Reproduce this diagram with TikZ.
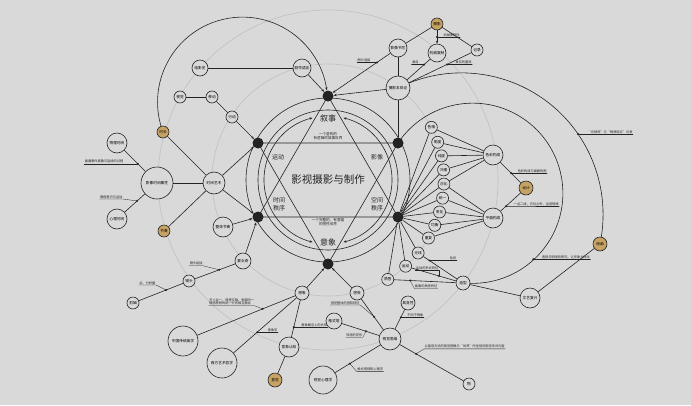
\documentclass[tikz,border=0pt]{standalone}
\usepackage{fontspec}
\setmainfont{Noto Sans CJK SC}
\usetikzlibrary{arrows.meta,calc}
\pgfdeclarelayer{back}
\pgfdeclarelayer{edges}
\pgfsetlayers{back,edges,main}
\definecolor{paper}{RGB}{217,217,217}
\definecolor{ink}{RGB}{35,35,35}
\definecolor{ring}{RGB}{192,192,192}
\definecolor{gold}{RGB}{198,162,100}
\tikzset{
  nd/.style={circle,draw=ink,fill=paper,line width=.6pt,inner sep=0pt,align=center,font=\fontsize{3.7}{4}\selectfont},
  gd/.style={nd,fill=gold},
  hub/.style={circle,fill=ink,inner sep=0pt,minimum size=11},
  ln/.style={draw=ink,line width=.6pt},
  lead/.style={draw=ink,line width=.3pt},
  lab/.style={font=\fontsize{3.2}{3.9}\selectfont,inner sep=.4pt,text=ink,align=left},
  big/.style={font=\fontsize{#1}{#1}\selectfont,text=ink,align=center,inner sep=0pt},
}
\begin{document}
\begin{tikzpicture}[x=1pt,y=-1pt,line cap=round,line join=round,>={Stealth[length=3pt,width=2.4pt]}]
  \coordinate (o) at (328,180);
  \begin{pgfonlayer}{back}
    \fill[paper] (0,0) rectangle (691,405);
    \draw[ring,line width=.6pt] (o) circle[radius=170];
    \draw[ring,line width=.6pt] (o) circle[radius=116];
  \end{pgfonlayer}

  % hexagram hubs
  \node[hub] (dtop) at (328,96) {};
  \node[hub] (dul) at (258,143) {};
  \node[hub] (dur) at (398,143) {};
  \node[hub] (dll) at (258,217) {};
  \node[hub] (dlr) at (398,217) {};
  \node[hub] (dbot) at (328,264) {};
  \node[big=10.5] (title) at (328,180) {影视摄影与制作};
  \node[big=8] (xushi) at (328,118) {叙事};
  \node[big=3.6] (xushitxt) at (328,136) {一个虚构的\\[.6pt]有逻辑的故事世界};
  \node[big=6] (yundong) at (278,157) {运动};
  \node[big=6] (yingxiang) at (377,157) {影像};
  \node[big=6] (shijianzx) at (279,204) {时间\\[1.5pt]秩序};
  \node[big=6] (kongjianzx) at (377,204) {空间\\[1.5pt]秩序};
  \node[big=3.6] (yixiangtxt) at (328,222) {一个完整的、有意蕴\\[.6pt]的感性世界};
  \node[big=8] (yixiang) at (328,242) {意象};

  % top
  \node[nd,minimum size=16] (dianyingshi) at (200,68) {电影史};
  \node[nd,minimum size=18] (juzuo) at (302,68) {剧作语言};
  \node[nd,minimum size=18] (yxsx) at (398,48) {影像书写};
  \node[gd,minimum size=12] (sheying) at (437,24) {摄影};
  \node[nd,minimum size=18] (jxfz) at (437,53) {机械复制};
  \node[nd,minimum size=12] (jilu) at (477,50) {记录};
  \node[nd,minimum size=24] (bentilun) at (398,88) {摄影本体论};

  % left
  \node[nd,minimum size=12] (shijue) at (180,97) {视觉};
  \node[nd,minimum size=12] (yidong) at (212,97) {移动};
  \node[nd,minimum size=12] (xingdong) at (232,117) {行动};
  \node[gd,minimum size=12] (shichang) at (163,132) {时长};
  \node[nd,minimum size=20] (wuli) at (117,143) {物理时间};
  \node[nd,minimum size=32] (shuxing) at (157,183) {影像时间属性};
  \node[nd,minimum size=22] (shijian) at (214,183) {时间艺术};
  \node[nd,minimum size=20] (xinli) at (117,219) {心理时间};
  \node[gd,minimum size=12] (jiezou) at (164,231) {节奏};
  \node[nd,minimum size=20] (zhengti) at (223,227) {整体节奏};
  \node[nd,minimum size=16] (mengtaiqi) at (243,261) {蒙太奇};
  \node[nd,minimum size=12] (jingtou) at (189,281) {镜头};
  \node[nd,minimum size=12] (jianji) at (133,303) {剪辑};
  \node[nd,minimum size=30] (zgmx) at (183,341) {中国传统美学};
  \node[nd,minimum size=30] (xfzx) at (222,363) {西方艺术哲学};

  % bottom
  \node[nd,minimum size=14] (xiangxiang) at (302,293) {想象};
  \node[nd,minimum size=14] (ganshou) at (357,293) {感受};
  \node[nd,minimum size=20] (yxrz) at (289,347) {意象认知};
  \node[gd,minimum size=14] (zhijue) at (275,380) {直觉};
  \node[nd,minimum size=16] (geshita) at (334,321) {格式塔};
  \node[nd,minimum size=22] (sjsw) at (390,339) {视觉思维};
  \node[nd,minimum size=28] (sjxl) at (323,380) {视觉心理学};
  \node[nd,minimum size=12] (wu) at (469,384) {物};
  \node[nd,minimum size=14] (jushen) at (408,303) {具身性};

  % right
  \node[nd,minimum size=12] (c1) at ($(o)+(-27:116)$) {色相};
  \node[nd,minimum size=12] (c2) at ($(o)+(-19:116)$) {明度};
  \node[nd,minimum size=12] (c3) at ($(o)+(-12:116)$) {纯度};
  \node[nd,minimum size=12] (c4) at ($(o)+(-5:116)$) {冷暖};
  \node[nd,minimum size=12] (c5) at ($(o)+(2:116)$) {对比};
  \node[nd,minimum size=12] (c6) at ($(o)+(9:116)$) {统一};
  \node[nd,minimum size=12] (c7) at ($(o)+(16:116)$) {变化};
  \node[nd,minimum size=12] (c8) at ($(o)+(23:116)$) {均衡};
  \node[nd,minimum size=12] (c9) at ($(o)+(30:116)$) {重复};
  \node[nd,minimum size=12] (c10) at ($(o)+(39:116)$) {光线};
  \node[nd,minimum size=12] (c11) at ($(o)+(48:116)$) {运动};
  \node[nd,minimum size=12] (c12) at ($(o)+(59:116)$) {质感};
  \node[nd,minimum size=20] (secai) at (493,155) {色彩构成};
  \node[nd,minimum size=20] (pingmian) at (493,218) {平面构成};
  \node[gd,minimum size=14] (sheji) at (526,188) {设计};
  \node[nd,minimum size=14] (zaoxing) at (463,283) {造型};
  \node[nd,minimum size=20] (wenyi) at (530,298) {文艺复兴};
  \node[gd,minimum size=14] (huihua) at (600,244) {绘画};

  \coordinate (ca) at (242.6,102.1);
  \coordinate (cb) at (461.6,214.4);
  \coordinate (cc) at (471.8,193.3);

  \begin{pgfonlayer}{edges}
    % hexagram and rings
    \draw[ln] (dtop.center) -- (dll.center) -- (dlr.center) -- cycle;
    \draw[ln] (dul.center) -- (dur.center) -- (dbot.center) -- cycle;
    \draw[ln] (o) circle[radius=82];
    \draw[ln] (o) circle[radius=70];
    \draw[ln,<->] (o) ++(256:64) arc[start angle=256,end angle=104,radius=64];
    \draw[ln,<->] (o) ++(-76:64) arc[start angle=-76,end angle=76,radius=64];

    % big arcs
    \draw[ln,->] (shichang) arc[start angle=159.4,end angle=352,radius=85];
    \draw[ln] (bentilun) arc[start angle=-116.7,end angle=12,radius=141.5];
    \draw[ln] (dur) arc[start angle=-146.1,end angle=95.6,radius=90.1];

    % top
    \draw[ln] (dianyingshi) -- (juzuo);
    \draw[ln,->] (juzuo) -- (dtop);
    \draw[ln,->] (yxsx) -- (dtop);
    \draw[ln,->] (bentilun) -- (dtop);
    \draw[ln] (yxsx) -- (bentilun);
    \draw[ln] (bentilun) -- (dur);
    \draw[ln] (sheying) -- (yxsx);
    \draw[ln,->] (sheying) -- (jxfz);
    \draw[ln] (sheying) -- (jilu);
    \draw[ln] (jxfz) -- (bentilun);
    \draw[ln] (jilu) -- (bentilun);

    % left
    \draw[ln] (shijue) -- (yidong);
    \draw[ln] (yidong) -- (xingdong);
    \draw[ln,->] (xingdong) -- (dul);
    \draw[ln] (shichang) -- (shijian);
    \draw[ln] (shuxing) -- (shijian);
    \draw[ln] (jiezou) -- (shijian);
    \draw[ln] (wuli) -- (shuxing);
    \draw[ln] (xinli) -- (shuxing);
    \draw[ln,->] (shijian) -- (dul);
    \draw[ln,->] (shijian) -- (dll);
    \draw[ln,->] (zhengti) -- (dll);
    \draw[ln,->] (mengtaiqi) -- (dll);
    \draw[ln] (mengtaiqi) -- (jingtou);
    \draw[ln] (jingtou) -- (jianji);

    % bottom
    \draw[ln,->] (xiangxiang) -- (dbot);
    \draw[ln,->] (ganshou) -- (dbot);
    \draw[ln] (xiangxiang) -- (zgmx);
    \draw[ln] (xiangxiang) -- (xfzx);
    \draw[ln] (xiangxiang) -- (yxrz);
    \draw[ln] (yxrz) -- (zhijue);
    \draw[ln] (ganshou) -- (sjsw);
    \draw[ln] (geshita) -- (sjsw);
    \draw[ln] (jushen) -- (sjsw);
    \draw[ln] (sjxl) -- (sjsw);
    \draw[ln] (sjsw) -- (wu);

    % right
    \draw[ln] (dlr) -- (c1);
    \draw[ln] (dlr) -- (c2);
    \draw[ln] (dlr) -- (c3);
    \draw[ln] (dlr) -- (c4);
    \draw[ln] (dlr) -- (c5);
    \draw[ln] (dlr) -- (c6);
    \draw[ln] (dlr) -- (c7);
    \draw[ln] (dlr) -- (c8);
    \draw[ln] (dlr) -- (c9);
    \draw[ln] (dlr) -- (c10);
    \draw[ln] (dlr) -- (c11);
    \draw[ln] (dlr) -- (c12);
    \draw[ln] (c1) -- (secai);
    \draw[ln] (c2) -- (secai);
    \draw[ln] (c3) -- (secai);
    \draw[ln] (c4) -- (secai);
    \draw[ln] (c5) -- (secai);
    \draw[ln] (c5) -- (pingmian);
    \draw[ln] (c6) -- (pingmian);
    \draw[ln] (c7) -- (pingmian);
    \draw[ln] (c8) -- (pingmian);
    \draw[ln] (c9) -- (pingmian);
    \draw[ln] (secai) -- (sheji);
    \draw[ln] (pingmian) -- (sheji);
    \draw[ln] (c10) -- (zaoxing);
    \draw[ln] (c11) -- (zaoxing);
    \draw[ln] (c12) -- (zaoxing);
    \draw[ln] (zaoxing) -- (wenyi);
    \draw[ln] (wenyi) -- (huihua);
  \end{pgfonlayer}

  % annotations: marker on the line, leader, text
  \coordinate (m1) at ($(yxsx)!.3!(dtop)$);
  \coordinate (m2) at ($(sheying)!.45!(jxfz)$);
  \coordinate (m3) at ($(jxfz)!.33!(bentilun)$);
  \coordinate (m4) at ($(jilu)!.38!(bentilun)$);
  \coordinate (m5) at ($(cb)+(-34.6:141.5)$);
  \coordinate (m6) at ($(secai)!.55!(sheji)$);
  \coordinate (m7) at ($(pingmian)!.4!(sheji)$);
  \coordinate (m8) at ($(cc)+(47:90.1)$);
  \coordinate (m9) at ($(c10)!.25!(zaoxing)$);
  \coordinate (m10) at ($(c11)!.58!(zaoxing)$);
  \coordinate (m11) at ($(c12)!.3!(zaoxing)$);
  \coordinate (m12) at ($(jushen)!.4!(sjsw)$);
  \coordinate (m13) at ($(sjsw)!.33!(wu)$);
  \coordinate (m14) at ($(geshita)!.57!(sjsw)$);
  \coordinate (m15) at ($(ganshou)!.52!(sjsw)$);
  \coordinate (m16) at ($(sjxl)!.4!(sjsw)$);
  \coordinate (m17) at ($(xiangxiang)!.33!(zgmx)$);
  \coordinate (m18) at ($(xiangxiang)!.56!(xfzx)$);
  \coordinate (m19) at ($(xiangxiang)!.63!(yxrz)$);
  \coordinate (m20) at ($(mengtaiqi)!.44!(jingtou)$);
  \coordinate (m21) at ($(jingtou)!.41!(jianji)$);
  \coordinate (m22) at ($(wuli)!.52!(shuxing)$);
  \coordinate (m23) at ($(xinli)!.5!(shuxing)$);

  \node[lab,anchor=south east] (t1) at ($(m1)+(-6,0)$) {图片连接};
  \node[lab,anchor=south west] (t2) at ($(m2)+(6,0)$) {机械复制性};
  \node[lab,anchor=south east] (t3) at ($(m3)+(-5,0)$) {源自};
  \node[lab,anchor=south west] (t4) at ($(m4)+(8,0)$) {真实的重现};
  \node[lab,anchor=south west] (t5) at ($(m5)+(9,0)$) {“光映现”与“物质现实”记录};
  \node[lab,anchor=south west] (t6) at ($(m6)+(6,0)$) {色彩构成与画面构图};
  \node[lab,anchor=south west] (t7) at ($(m7)+(7,0)$) {一点二线，方位占布，运用规律};
  \node[lab,anchor=south west] (t8) at ($(m8)+(8,0)$) {透视与明暗的研究，让形象立体化};
  \node[lab,anchor=south west] (t9) at ($(m9)+(20,0)$) {色彩};
  \node[lab,anchor=south east] (t10) at ($(m10)+(0,-6)$) {运动的形式特征};
  \node[lab,anchor=south west] (t11) at ($(m11)+(4,8)$) {画面的质感特征};
  \node[lab,anchor=south west] (t12) at ($(m12)+(6,0)$) {不同于物象};
  \node[lab,anchor=south west] (t13) at ($(m13)+(8,-5)$) {以客观方式的视觉图像与“世界”所呈现的视觉形式内容};
  \node[lab,anchor=south east] (t14) at ($(m14)+(-3,6)$) {知觉的完形};
  \node[lab,anchor=south east] (t15) at ($(m15)+(-14,-12)$) {感觉整体的感知特征};
  \node[lab,anchor=south west] (t16) at ($(m16)+(7,8)$) {格式塔视知心理学};
  \node[lab,anchor=south east] (t17) at ($(m17)+(-8,-3)$) {天人合一，情景交融，物我同一\\情感思想的统一方式相互融合};
  \node[lab,anchor=south west] (t18) at ($(m18)+(10,0)$) {意象学};
  \node[lab,anchor=south west] (t19) at ($(m19)+(7,0)$) {意象概念上的关系};
  \node[lab,anchor=south east] (t20) at ($(m20)+(-16,-4)$) {镜头组接};
  \node[lab,anchor=south east] (t21) at ($(m21)+(-10,-5)$) {点、分析量};
  \node[lab,anchor=south east] (t22) at ($(m22)+(-14,0)$) {画面事件离散与连续的过程};
  \node[lab,anchor=south east] (t23) at ($(m23)+(-14,-2)$) {情感意识与运动};

  \draw[lead] (m1) -- (t1.south east) -- (t1.south west);
  \draw[lead] (m2) -- (t2.south west) -- (t2.south east);
  \draw[lead] (m3) -- (t3.south east) -- (t3.south west);
  \draw[lead] (m4) -- (t4.south west) -- (t4.south east);
  \draw[lead] (m5) -- (t5.south west) -- (t5.south east);
  \draw[lead] (m6) -- (t6.south west) -- (t6.south east);
  \draw[lead] (m7) -- (t7.south west) -- (t7.south east);
  \draw[lead] (m8) -- (t8.south west) -- (t8.south east);
  \draw[lead] (m9) -- (t9.south west) -- (t9.south east);
  \draw[lead] (m10) -- (t10.south east) -- (t10.south west);
  \draw[lead] (m11) -- (t11.south west) -- (t11.south east);
  \draw[lead] (m12) -- (t12.south west) -- (t12.south east);
  \draw[lead] (m13) -- (t13.south west) -- (t13.south east);
  \draw[lead] (m14) -- (t14.south east) -- (t14.south west);
  \draw[lead] (m15) -- (t15.south east) -- (t15.south west);
  \draw[lead] (m16) -- (t16.south west) -- (t16.south east);
  \draw[lead] (m17) -- (t17.south east) -- (t17.south west);
  \draw[lead] (m18) -- (t18.south west) -- (t18.south east);
  \draw[lead] (m19) -- (t19.south west) -- (t19.south east);
  \draw[lead] (m20) -- (t20.south east) -- (t20.south west);
  \draw[lead] (m21) -- (t21.south east) -- (t21.south west);
  \draw[lead] (m22) -- (t22.south east) -- (t22.south west);
  \draw[lead] (m23) -- (t23.south east) -- (t23.south west);
  \foreach \m in {m1,m2,m3,m4,m5,m6,m7,m8,m9,m10,m11,m12,m13,m14,m15,m16,m17,m18,m19,m20,m21,m22,m23}
    \fill[ink] (\m) circle[radius=1.1];
\end{tikzpicture}
\end{document}
